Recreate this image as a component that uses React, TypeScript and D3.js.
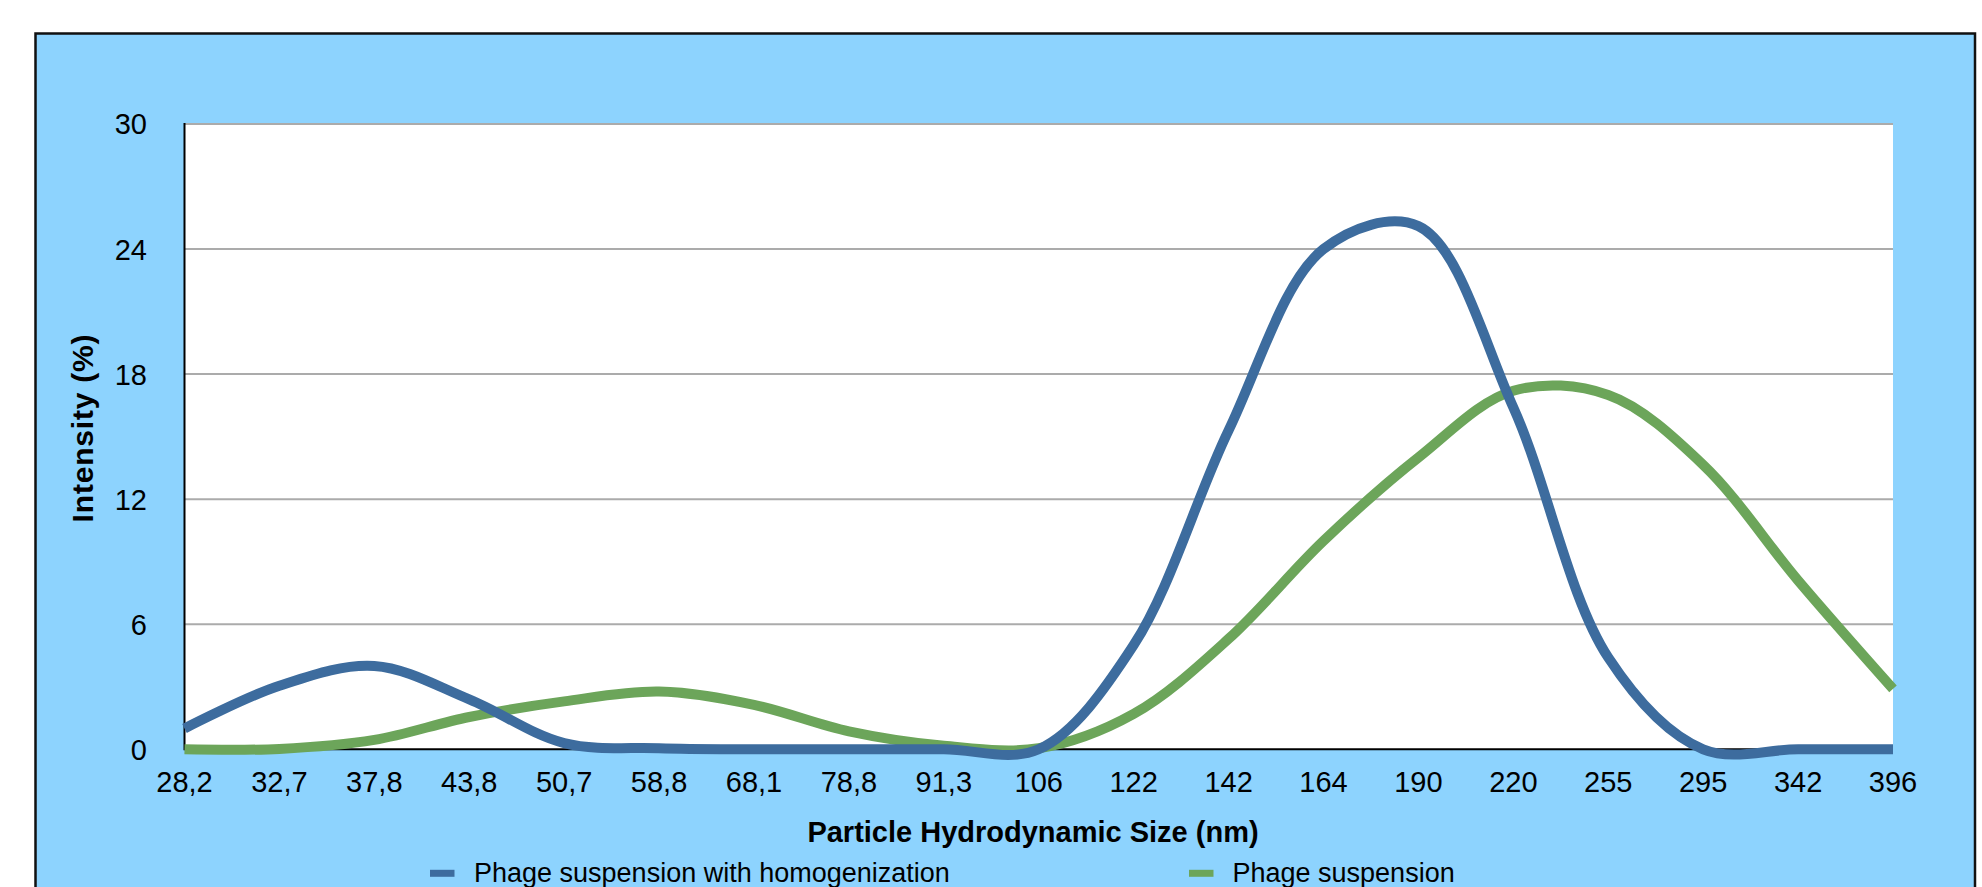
import React from "react";
import * as d3 from "d3";

const categories = ["28,2", "32,7", "37,8", "43,8", "50,7", "58,8", "68,1", "78,8", "91,3", "106", "122", "142", "164", "190", "220", "255", "295", "342", "396"];
const homogenized = [1.0, 3.05, 4.0, 2.4, 0.3, 0.05, 0, 0, 0, 0, 5.0, 15.3, 24.0, 25.1, 16.4, 4.4, 0, 0, 0];
const suspension = [0, 0.02, 0.45, 1.55, 2.3, 2.77, 2.13, 0.86, 0.17, 0.05, 1.7, 5.3, 10.0, 14.0, 17.2, 17.0, 13.65, 8.1, 2.9];
const yTicks = [0, 6, 12, 18, 24, 30];
const seriesNames = ["Phage suspension with homogenization", "Phage suspension"];

const W = 1982;
const H = 887;
const PL = 184.5, PR = 1893, PT = 124, PB = 749.3;
const FONT = "'Liberation Sans', Arial, Helvetica, sans-serif";
const BLUE = "#3D6C9E";
const GREEN = "#6CA55A";

export default function App() {
  const x = d3.scalePoint<string>().domain(categories).range([PL, PR]);
  const y = d3.scaleLinear().domain([0, 30]).range([PB, PT]);
  const line = d3
    .line<number>()
    .x((_, i) => x(categories[i]) as number)
    .y((d) => y(d))
    .curve(d3.curveCatmullRom.alpha(0.5));

  return (
    <svg
      width={W}
      height={H}
      style={{ position: "absolute", left: 0, top: 0, background: "#fff" }}
      fontFamily={FONT}
    >
      <rect x={35.5} y={33.5} width={1939.5} height={900} fill="#8DD3FE" stroke="#111" strokeWidth={2.5} />
      <rect x={PL} y={PT} width={PR - PL} height={PB - PT} fill="#fff" />
      {yTicks.filter((t) => t > 0).map((t) => (
        <line key={"g" + t} x1={PL} x2={PR} y1={y(t)} y2={y(t)} stroke="#ABABAB" strokeWidth={2} />
      ))}
      <line x1={PL} x2={PL} y1={PT - 1} y2={PB + 1} stroke="#000" strokeWidth={2} />
      <line x1={PL} x2={PR} y1={PB} y2={PB} stroke="#000" strokeWidth={2} />
      {yTicks.map((t) => (
        <text key={"y" + t} x={147} y={y(t)} dy="0.36em" textAnchor="end" fontSize={29} fill="#000">
          {t}
        </text>
      ))}
      {categories.map((c) => (
        <text key={"x" + c} x={x(c)} y={791.5} textAnchor="middle" fontSize={29} fill="#000">
          {c}
        </text>
      ))}
      <path d={line(suspension) || ""} fill="none" stroke={GREEN} strokeWidth={10} strokeLinejoin="round" strokeLinecap="butt" />
      <path d={line(homogenized) || ""} fill="none" stroke={BLUE} strokeWidth={10} strokeLinejoin="round" strokeLinecap="butt" />
      <text x={1033} y={841.5} textAnchor="middle" fontSize={29} fontWeight="bold" fill="#000">
        Particle Hydrodynamic Size (nm)
      </text>
      <text transform={`translate(93,428) rotate(-90)`} textAnchor="middle" fontSize={30} letterSpacing={0.8} fontWeight="bold" fill="#000">
        Intensity (%)
      </text>
      <line x1={430} x2={454.5} y1={873.3} y2={873.3} stroke={BLUE} strokeWidth={7} />
      <text x={474} y={881.7} fontSize={27} fill="#000">{seriesNames[0]}</text>
      <line x1={1189} x2={1213.5} y1={873.3} y2={873.3} stroke={GREEN} strokeWidth={7} />
      <text x={1232.5} y={881.7} fontSize={27} fill="#000">{seriesNames[1]}</text>
    </svg>
  );
}
